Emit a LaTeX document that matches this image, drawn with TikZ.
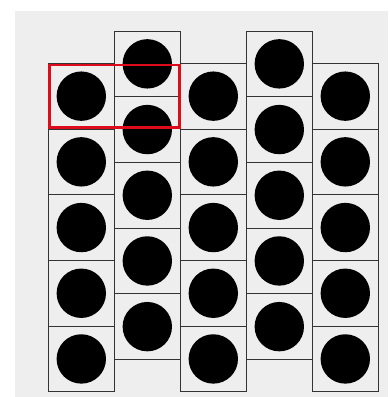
\documentclass[tikz,border=0pt]{standalone}
\definecolor{hlred}{RGB}{222,12,26}
\definecolor{bggray}{RGB}{238,238,238}
\begin{document}
\begin{tikzpicture}[x=1pt,y=-1pt,
  cell/.style={draw=black!80,line width=0.8pt,minimum width=66pt,minimum height=65.7pt,inner sep=0pt,outer sep=0pt,fill=none},
  dot/.style={circle,fill=black,minimum size=49.4pt,inner sep=0pt}]
\useasboundingbox (0,0) rectangle (389,397);
\fill[bggray] (15,11) rectangle (387.5,397);
\foreach \c/\top in {1/63.3,2/31,3/63.3,4/31,5/63.3}{
  \foreach \r in {1,...,5}{
    \pgfmathsetmacro{\cx}{48.3+66*(\c-1)+33}
    \pgfmathsetmacro{\cy}{\top+65.7*(\r-1)+32.85}
    \node[cell] (cell\c\r) at (\cx,\cy) {};
    \node[dot] (dot\c\r) at (cell\c\r.center) {};
  }
}
\draw[hlred,line width=2.6pt] (49.3,65) rectangle (179.3,127.7);
\end{tikzpicture}
\end{document}
